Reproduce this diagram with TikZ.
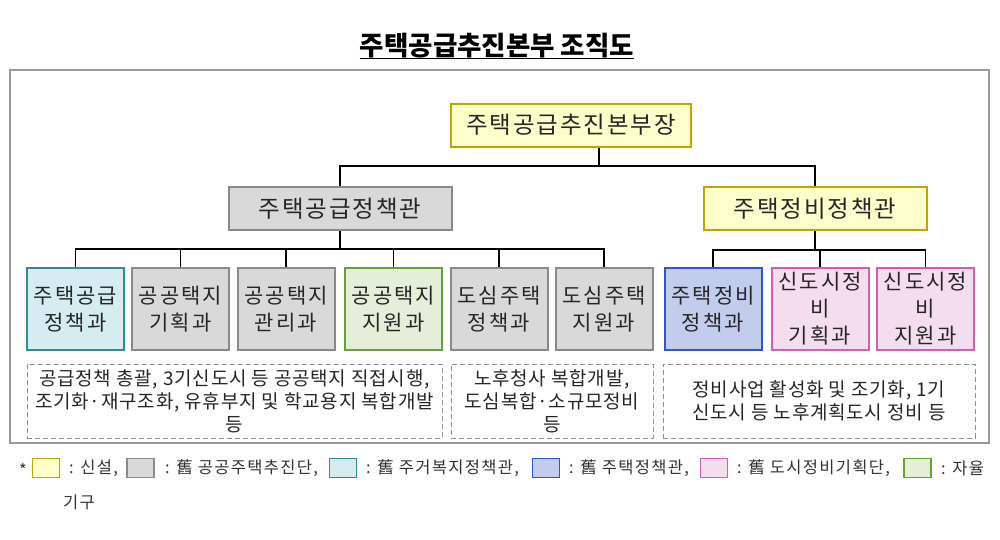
\documentclass[tikz,border=0pt]{standalone}
\usepackage{fontspec}
\setmainfont{Noto Sans CJK KR}
\newfontfamily\spacedfont[LetterSpace=8]{Noto Sans CJK KR}
\newfontfamily\unitfont[LetterSpace=10]{Noto Sans CJK KR}
\newfontfamily\dutyfont[LetterSpace=4]{Noto Sans CJK KR}
\usetikzlibrary{positioning}

\definecolor{newfill}{HTML}{FFFFCC}
\definecolor{newline}{HTML}{C4A400}
\definecolor{oldfill}{HTML}{D9D9D9}
\definecolor{oldline}{HTML}{8A8A8A}
\definecolor{welfill}{HTML}{D5ECF1}
\definecolor{welline}{HTML}{318A98}
\definecolor{hpfill}{HTML}{C2CDEE}
\definecolor{hpline}{HTML}{3056C0}
\definecolor{urbfill}{HTML}{F4DDEE}
\definecolor{urbline}{HTML}{D260AE}
\definecolor{autofill}{HTML}{E3EFD9}
\definecolor{autoline}{HTML}{6C9E3A}
\definecolor{framegray}{HTML}{9A9A9A}
\definecolor{dashgray}{HTML}{8C8C8C}

\begin{document}
\begin{tikzpicture}[
    x=1pt, y=-1pt,
    box/.style={draw, line width=2pt, align=center, text=black!85, inner sep=0pt},
    head/.style={box, minimum height=43pt, font=\spacedfont\fontsize{23.5}{26}\selectfont},
    unit/.style={box, minimum width=97pt, minimum height=82pt, font=\unitfont\fontsize{21}{27}\selectfont},
    newbox/.style={fill=newfill, draw=newline},
    oldbox/.style={fill=oldfill, draw=oldline},
    welbox/.style={fill=welfill, draw=welline},
    hpbox/.style={fill=hpfill, draw=hpline},
    urbbox/.style={fill=urbfill, draw=urbline},
    autobox/.style={fill=autofill, draw=autoline},
    duty/.style={draw=dashgray, dash pattern=on 5pt off 3pt, line width=1pt, align=center,
        text=black!85, inner sep=0pt, minimum height=74pt, font=\dutyfont\fontsize{19}{23}\selectfont},
    link/.style={line width=1.4pt},
    key/.style={draw, line width=1.8pt, minimum width=27pt, minimum height=19pt, inner sep=0pt},
    keytext/.style={anchor=west, inner sep=0pt, text=black!80, font=\spacedfont\fontsize{16.5}{19}\selectfont}
]
\useasboundingbox (0,0) rectangle (1000,539);

% Title
\node[anchor=base, inner sep=0pt, font=\fontsize{26.5}{30}\selectfont\bfseries] (title) at (497,55) {주택공급추진본부 조직도};
\draw[line width=1.6pt] ([yshift=-3.5pt]title.base west) -- ([yshift=-3.5pt]title.base east);

% Frame
\draw[draw=framegray, line width=1.5pt] (10,70) rectangle (989,443);

% Heads
\node[head, newbox, minimum width=240pt] (chief) at (571,125) {주택공급추진본부장};
\node[head, oldbox, minimum width=223pt] (supply) at (340,208.5) {주택공급정책관};
\node[head, newbox, minimum width=223pt] (renew) at (815,208.5) {주택정비정책관};

% Divisions
\node[unit, welbox] (u1) at (75.5,309) {주택공급\\정책과};
\node[unit, oldbox] (u2) at (180.5,309) {공공택지\\기획과};
\node[unit, oldbox] (u3) at (286,309) {공공택지\\관리과};
\node[unit, autobox] (u4) at (393.5,309) {공공택지\\지원과};
\node[unit, oldbox] (u5) at (499,309) {도심주택\\정책과};
\node[unit, oldbox] (u6) at (604,309) {도심주택\\지원과};
\node[unit, hpbox] (u7) at (713,309) {주택정비\\정책과};
\node[unit, urbbox] (u8) at (820,309) {신도시정\\비\\기획과};
\node[unit, urbbox] (u9) at (925.5,309) {신도시정\\비\\지원과};

% Connectors
\coordinate (hub) at (599,166);
\draw[link] (chief.south -| hub) -- (hub);
\draw[link] (supply.north) |- (hub) -| (renew.north);
\foreach \n in {u1,u2,u3,u4,u5,u6}
    \draw[link] (supply.south) -- ++(0,18) -| (\n.north);
\foreach \n in {u7,u8,u9}
    \draw[link] (renew.south) -- ++(0,19) -| (\n.north);

% Duties
\node[duty, minimum width=415pt] (d1) at (234.5,401) {공급정책 총괄, 3기신도시 등 공공택지 직접시행,\\조기화·재구조화, 유휴부지 및 학교용지 복합개발\\등};
\node[duty, minimum width=202pt] (d2) at (552,401) {노후청사 복합개발,\\도심복합·소규모정비\\등};
\node[duty, minimum width=312pt] (d3) at (819,401) {정비사업 활성화 및 조기화, 1기\\신도시 등 노후계획도시 정비 등};

% Legend
\node[keytext] (star) at (19,470) {*};
\node[key, newbox] (k1) at (46,468) {};
\node[keytext] (t1) at (69,468) {: 신설,};
\node[key, oldbox] (k2) at (140.5,468) {};
\node[keytext] (t2) at (165,468) {: 舊 공공주택추진단,};
\node[key, welbox] (k3) at (343,468) {};
\node[keytext] (t3) at (366,468) {: 舊 주거복지정책관,};
\node[key, hpbox] (k4) at (546,468) {};
\node[keytext] (t4) at (569,468) {: 舊 주택정책관,};
\node[key, urbbox] (k5) at (714,468) {};
\node[keytext] (t5) at (737,468) {: 舊 도시정비기획단,};
\node[key, autobox] (k6) at (917.5,468) {};
\node[keytext] (t6) at (941,468) {: 자율};
\node[keytext] (t7) at (63,502) {기구};

\end{tikzpicture}
\end{document}
